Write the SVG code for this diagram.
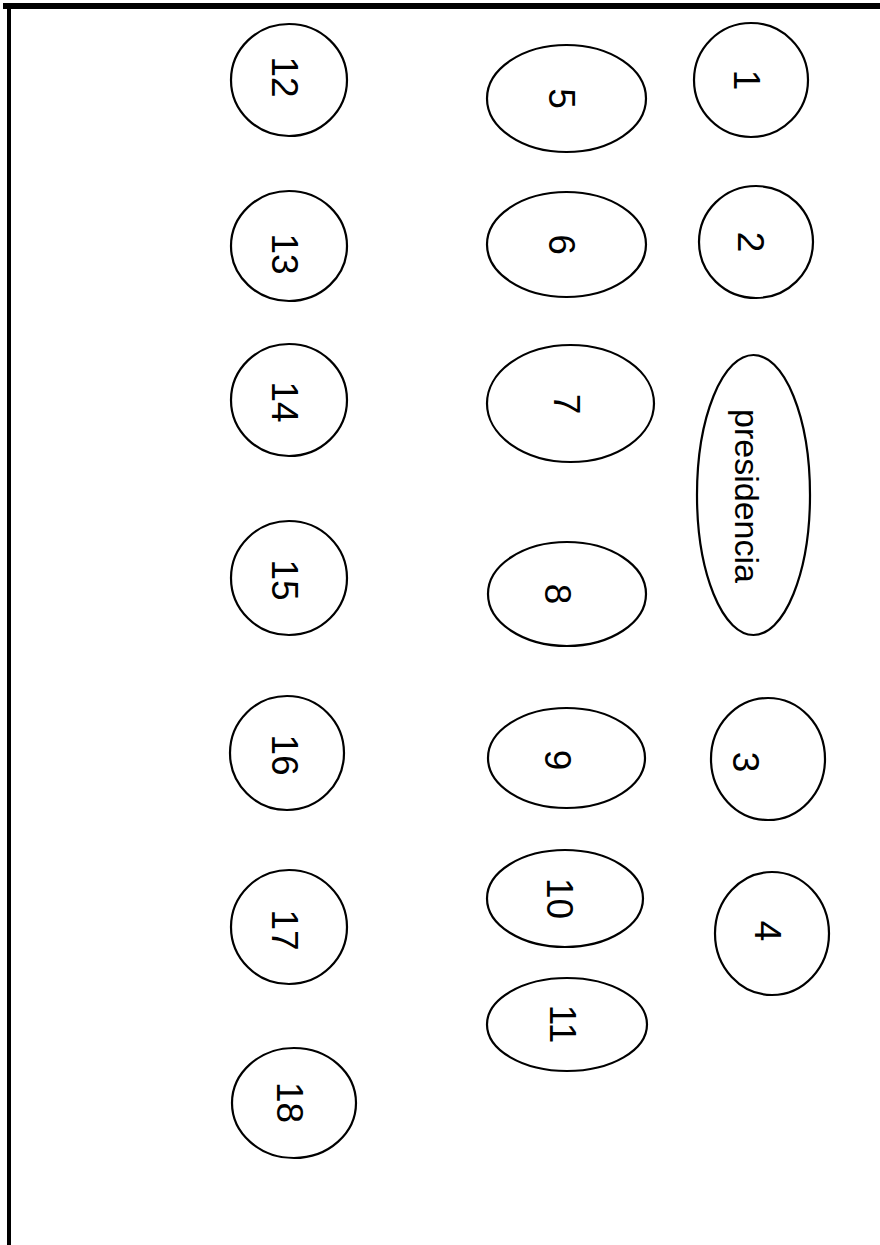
<svg xmlns="http://www.w3.org/2000/svg" width="880" height="1245" viewBox="0 0 880 1245">
<style>
.n{fill:#fff;stroke:#000;stroke-width:2.2}
.t{font-family:"Liberation Sans",Arial,sans-serif;font-size:37px;fill:#000;text-anchor:middle}
.p{font-size:34px}
</style>
<rect x="0" y="0" width="880" height="1245" fill="#fff"/>
<g id="frame">
<rect x="3" y="3" width="877" height="6" fill="#000"/>
<rect x="7" y="3" width="4" height="1242" fill="#000"/>
</g>
<g id="connectors"></g>
<g id="n1"><ellipse class="n" cx="751" cy="80" rx="57" ry="57"/><text class="t" transform="translate(747,80) rotate(90)" y="13">1</text></g>
<g id="n2"><ellipse class="n" cx="756" cy="242" rx="57" ry="56"/><text class="t" transform="translate(751,242) rotate(90)" y="13">2</text></g>
<g id="npresidencia"><ellipse class="n" cx="753.5" cy="495" rx="56.5" ry="140"/><text class="t p" transform="translate(744,496) rotate(90)" y="9">presidencia</text></g>
<g id="n3"><ellipse class="n" cx="768" cy="759" rx="57" ry="61"/><text class="t" transform="translate(746,762) rotate(90)" y="13">3</text></g>
<g id="n4"><ellipse class="n" cx="772" cy="933.5" rx="57" ry="61.5"/><text class="t" transform="translate(768,931) rotate(90)" y="13">4</text></g>
<g id="n5"><ellipse class="n" cx="566.5" cy="98.5" rx="79.5" ry="53.5"/><text class="t" transform="translate(561.5,98.5) rotate(90)" y="13">5</text></g>
<g id="n6"><ellipse class="n" cx="566.5" cy="244.5" rx="79.5" ry="52.5"/><text class="t" transform="translate(561.5,244.5) rotate(90)" y="13">6</text></g>
<g id="n7"><ellipse class="n" cx="570.5" cy="403.5" rx="83.5" ry="58.5"/><text class="t" transform="translate(566.5,404) rotate(90)" y="13">7</text></g>
<g id="n8"><ellipse class="n" cx="567" cy="594" rx="79" ry="52"/><text class="t" transform="translate(558,594) rotate(90)" y="13">8</text></g>
<g id="n9"><ellipse class="n" cx="566.5" cy="758" rx="78.5" ry="50"/><text class="t" transform="translate(558,760) rotate(90)" y="13">9</text></g>
<g id="n10"><ellipse class="n" cx="565" cy="898.5" rx="78" ry="48.5"/><text class="t" transform="translate(559.5,898.5) rotate(90)" y="13">10</text></g>
<g id="n11"><ellipse class="n" cx="567" cy="1024.5" rx="80" ry="46.5"/><text class="t" transform="translate(562.5,1024) rotate(90)" y="13">11</text></g>
<g id="n12"><ellipse class="n" cx="289" cy="80" rx="58" ry="56"/><text class="t" transform="translate(285,77) rotate(90)" y="13">12</text></g>
<g id="n13"><ellipse class="n" cx="289" cy="246" rx="58" ry="55"/><text class="t" transform="translate(285,254) rotate(90)" y="13">13</text></g>
<g id="n14"><ellipse class="n" cx="289" cy="400" rx="58" ry="56"/><text class="t" transform="translate(285,402) rotate(90)" y="13">14</text></g>
<g id="n15"><ellipse class="n" cx="289" cy="578" rx="58" ry="57"/><text class="t" transform="translate(285,580) rotate(90)" y="13">15</text></g>
<g id="n16"><ellipse class="n" cx="287" cy="753" rx="57" ry="57"/><text class="t" transform="translate(285,755) rotate(90)" y="13">16</text></g>
<g id="n17"><ellipse class="n" cx="289" cy="927" rx="58" ry="57"/><text class="t" transform="translate(285,930) rotate(90)" y="13">17</text></g>
<g id="n18"><ellipse class="n" cx="294" cy="1103" rx="62" ry="55"/><text class="t" transform="translate(289.5,1102.5) rotate(90)" y="13">18</text></g>
</svg>
